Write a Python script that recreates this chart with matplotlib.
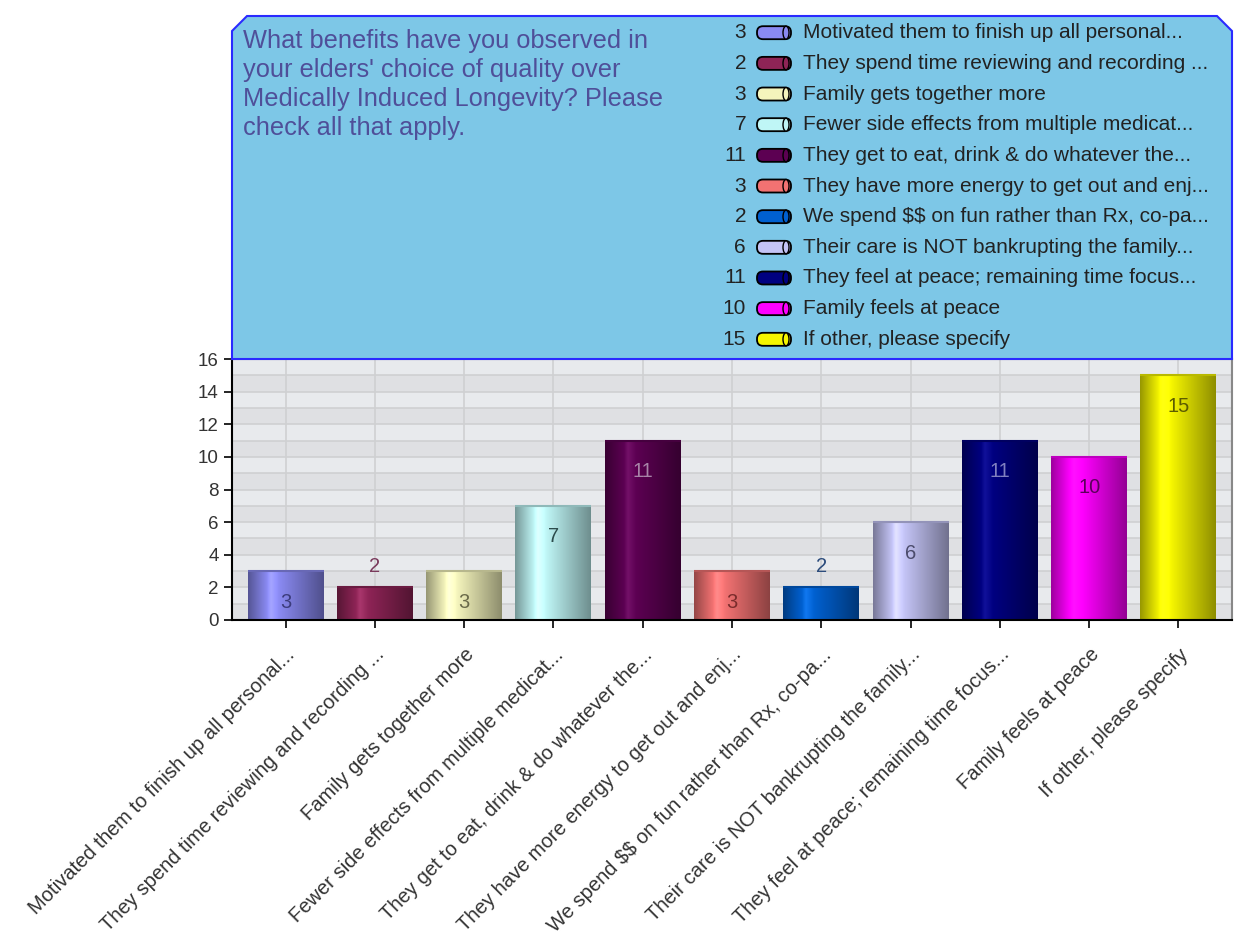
import numpy as np
import matplotlib
matplotlib.use("Agg")
import matplotlib.pyplot as plt
from matplotlib.patches import Polygon, FancyBboxPatch, Ellipse
from matplotlib.colors import to_rgb

plt.rcParams["font.family"] = ["Liberation Sans", "DejaVu Sans"]
plt.rcParams["text.parse_math"] = False

# ---------------- data ----------------
title_lines = ["What benefits have you observed in", "your elders' choice of quality over",
               "Medically Induced Longevity? Please", "check all that apply."]

categories = [
    "Motivated them to finish up all personal...",
    "They spend time reviewing and recording ...",
    "Family gets together more",
    "Fewer side effects from multiple medicat...",
    "They get to eat, drink & do whatever the...",
    "They have more energy to get out and enj...",
    "We spend $$ on fun rather than Rx, co-pa...",
    "Their care is NOT bankrupting the family...",
    "They feel at peace; remaining time focus...",
    "Family feels at peace",
    "If other, please specify",
]
counts = [3, 2, 3, 7, 11, 3, 2, 6, 11, 10, 15]
bar_colors = ["#8a8af2", "#8e2456", "#f4f4bc", "#bff6f6", "#5c0052", "#f27272",
              "#0060d0", "#c4c4f6", "#000080", "#ff00ff", "#f6f600"]
label_colors = ["#3c3c7c", "#7a3a5c", "#6a6a4a", "#2c4c4c", "#a884a8", "#7a2c2c",
                "#2c4c7c", "#4c4c6c", "#8080c0", "#5c005c", "#5c5c00"]
yticks = [0, 2, 4, 6, 8, 10, 12, 14, 16]

W, H = 1241, 941


def fx(x):
    return x / W


def fy(y):
    return 1 - y / H


fig = plt.figure(figsize=(W / 100, H / 100), dpi=100)
fig.patch.set_facecolor("white")

# ---------------- blue header panel ----------------
panel = Polygon([(fx(232), fy(359)), (fx(232), fy(31)), (fx(247), fy(16)),
                 (fx(1217), fy(16)), (fx(1232), fy(31)), (fx(1232), fy(359))],
                closed=True, transform=fig.transFigure, facecolor="#7dc7e7",
                edgecolor="#2a2aff", linewidth=1.5, zorder=0)
fig.patches.append(panel)

# title, one line every 29 px
for i, line in enumerate(title_lines):
    fig.text(fx(243), fy(38.5 + i * 29), line, ha="left", va="center_baseline",
             fontsize=18.3, color="#4f4f99")

# legend rows drawn in pixel space
for i, (lab, v, c) in enumerate(zip(categories, counts, bar_colors)):
    yc = 32.7 + i * 30.66
    fig.text(fx(746), fy(yc), str(v), ha="right", va="center", fontsize=15, color="#222222")
    fig.text(fx(803), fy(yc), lab, ha="left", va="center", fontsize=15, color="#222222")
    x0, x1 = 757, 791
    box = FancyBboxPatch(((x0) / 100, (H - yc - 6.5) / 100), (x1 - x0) / 100, 13 / 100,
                         boxstyle="round,pad=0,rounding_size=0.06",
                         transform=fig.dpi_scale_trans, facecolor=c,
                         edgecolor="black", linewidth=1.3, zorder=3)
    fig.patches.append(box)
    cap = Ellipse(((x1 - 5) / 100, (H - yc) / 100), 6 / 100, 13 / 100,
                  transform=fig.dpi_scale_trans, facecolor=c,
                  edgecolor="black", linewidth=1.0, zorder=4)
    fig.patches.append(cap)

# ---------------- bar plot ----------------
ax = fig.add_axes([fx(232), fy(620), (1232 - 232) / W, (620 - 359) / H])
ax.set_facecolor("#e3e5e8")
x = np.arange(len(categories))

for k in range(16):
    if k % 2 == 1:
        ax.axhspan(k, k + 1, color="#e8eaed", zorder=0, lw=0)
    else:
        ax.axhspan(k, k + 1, color="#dfe0e3", zorder=0, lw=0)
for k in range(1, 16):
    ax.axhline(k, color="#cfd0d2", lw=1.2, zorder=0.5)
for xi in x:
    ax.axvline(xi, color="#cfd0d2", lw=1.2, zorder=0.5)

bars = ax.bar(x, counts, width=0.85, color=bar_colors, edgecolor="none", zorder=2)

# cylinder shading
t = np.linspace(0, 1, 80)
shade = np.interp(t, [0, 0.3, 1], [0.62, 1.08, 0.58])
for b, c in zip(bars, bar_colors):
    base = np.array(to_rgb(c))
    rgb = np.clip(base[None, :] * shade[:, None] + np.clip(shade - 1, 0, None)[:, None] * 0.8, 0, 1)
    img = rgb[None, :, :]
    im = ax.imshow(img, extent=(b.get_x(), b.get_x() + b.get_width(), 0, b.get_height()),
                   aspect="auto", zorder=2.1, interpolation="bilinear")
    im.set_clip_path(b)
    ax.plot([b.get_x(), b.get_x() + b.get_width()], [b.get_height(), b.get_height()],
            color=tuple(base * 0.75), lw=1.5, zorder=2.2, solid_capstyle="butt")

for xi, v, lc in zip(x, counts, label_colors):
    ypos = v + 1.25 if v <= 2 else v - 1.9
    ax.text(xi, ypos, str(v), ha="center", va="center", fontsize=14.5, color=lc, zorder=3)

ax.set_xlim(-0.6, 10.6)
ax.set_ylim(0, 16)
ax.set_yticks(yticks)
ax.set_xticks(x)
ax.set_xticklabels(categories, rotation=45, ha="right", va="top",
                   rotation_mode="anchor", fontsize=14.5, color="#333333")
ax.tick_params(axis="y", labelsize=13.5, colors="#333333", length=6, width=1.2)
ax.tick_params(axis="x", length=6, width=1.2, pad=12)
ax.tick_params(axis="y", color="black")

for s in ["left", "bottom"]:
    ax.spines[s].set_color("black")
    ax.spines[s].set_linewidth(1.5)
for s in ["top", "right"]:
    ax.spines[s].set_color("#888888")
    ax.spines[s].set_linewidth(1.5)

fig.savefig("out.png", dpi=100)
